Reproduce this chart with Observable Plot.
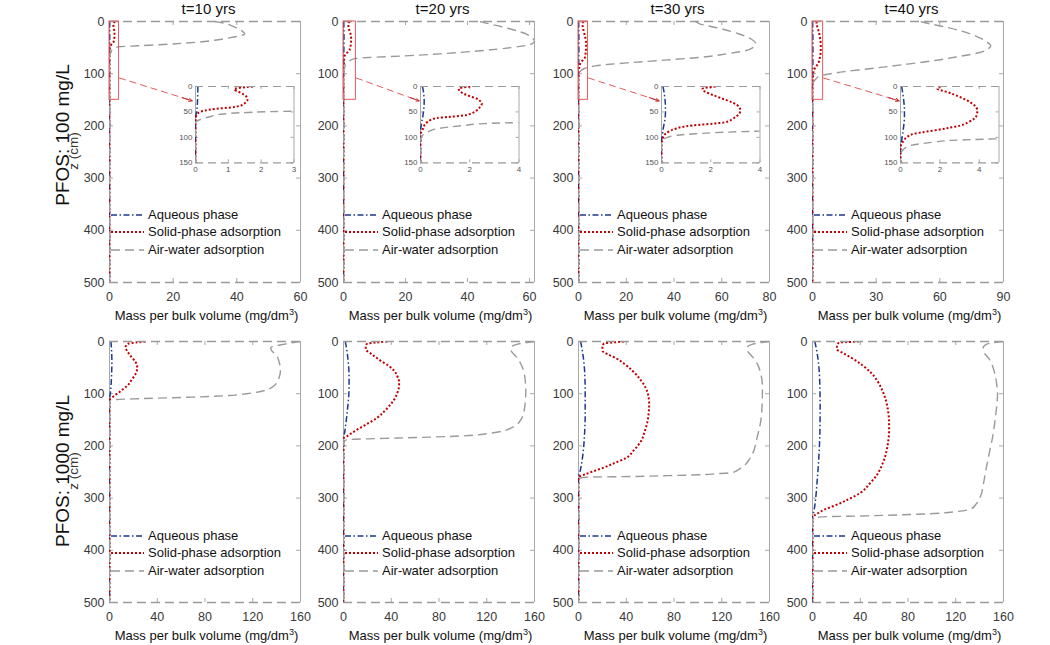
<!DOCTYPE html>
<html><head><meta charset="utf-8">
<script src="https://cdn.jsdelivr.net/npm/d3@7"></script>
<script src="https://cdn.jsdelivr.net/npm/@observablehq/plot@0.6"></script>
<style>
body{margin:0;background:#fff;}
#root{position:relative;width:1050px;height:645px;overflow:hidden;font-family:"Liberation Sans",Arial,sans-serif;color:#111;}
.abs{position:absolute;white-space:nowrap;}
.abs svg{overflow:visible;}
.title{font-size:15px;line-height:17px;transform:translateX(-50%);}
.xlab{font-size:13px;line-height:15px;transform:translate(-50%,-50%);}
.xlab sup{font-size:9px;line-height:0;vertical-align:5px;}
.rowlab{font-size:19px;line-height:19px;transform:translate(-50%,-50%) rotate(-90deg);}
.zlab{font-size:13.5px;line-height:14px;transform:translate(-50%,-50%) rotate(-90deg);color:#333;}
.leg{font-size:13px;line-height:14px;display:flex;align-items:center;}
</style></head><body><div id="root"></div>
<script>
// ---------- text ----------
const times = ["t=10 yrs", "t=20 yrs", "t=30 yrs", "t=40 yrs"];
const rowLabels = ["PFOS: 100 mg/L", "PFOS: 1000 mg/L"];
const seriesNames = ["Aqueous phase", "Solid-phase adsorption", "Air-water adsorption"];

// ---------- ticks / domains ----------
const zTicks = [0, 100, 200, 300, 400, 500];
const insetZTicks = [0, 50, 100, 150];
const topXMax = [60, 61.6, 80, 90];
const topXTicks = [[0, 20, 40, 60], [0, 20, 40, 60], [0, 20, 40, 60, 80], [0, 30, 60, 90]];
const bottomXMax = [160, 160, 160, 160];
const bottomXTicks = [0, 40, 80, 120, 160];
const insetXMax = [3, 4, 4, 5];
const insetZMax = 150;
const insetXTicks = [[0, 1, 2, 3], [0, 2, 4], [0, 2, 4], [0, 2, 4]];
// zoom arrow: from (insetXMax, arrowFromZ) to (arrowToX, arrowToZ) in main-panel units
const arrowFromZ = 108;
const arrowToZ = 152;
const arrowToX = [26, 24.4, 33.8, 40.8];

// ---------- data: [z (cm), mass per bulk volume (mg/dm3)] ----------
// PFOS 100 mg/L
const aq100_t10 = [[0,0.07],[10,0.07],[20,0.065],[30,0.06],[40,0.05],[50,0.03],[58,0.01],[65,0],[500,0]];
const sol100_t10 = [[0,1.75],[3,1.3],[6,1.18],[10,1.3],[15,1.45],[20,1.55],[27,1.58],[33,1.5],[38,1.35],[41,1.1],[44,0.6],[47,0.3],[50,0.14],[55,0.05],[62,0.01],[70,0],[500,0]];
const air100_t10 = [[0,33],[2,35],[10,39],[20,42],[24,42.5],[28,40.5],[32,37],[36,33],[40,27],[44,17],[46.5,9],[48.5,3],[51,1.6],[54,0.86],[60,0.4],[66,0.1],[72,0],[500,0]];

const aq100_t20 = [[0,0.08],[10,0.12],[20,0.14],[30,0.15],[40,0.14],[50,0.12],[60,0.09],[70,0.05],[80,0.02],[88,0],[500,0]];
const sol100_t20 = [[0,2.02],[2,1.7],[4.5,1.55],[9,1.6],[14,1.75],[19,2.0],[24,2.29],[30,2.45],[34,2.49],[40,2.42],[47,2.29],[52,2.1],[57,1.75],[60,1.1],[62,0.67],[66,0.4],[70,0.27],[76,0.16],[83,0.1],[88,0.05],[93,0],[500,0]];
const air100_t20 = [[0,44],[3,46],[10,51],[18,56],[25,59.3],[31,60.8],[38,61.6],[44,60.3],[50,54],[56,44.3],[62,31],[66,19],[69,8],[71,4],[73,2.6],[76.7,1.75],[83,0.67],[89,0.3],[98,0.05],[105,0],[500,0]];

const aq100_t30 = [[0,0.06],[10,0.1],[20,0.13],[30,0.15],[40,0.16],[50,0.16],[60,0.15],[70,0.12],[80,0.08],[90,0.05],[100,0.02],[108,0],[500,0]];
const sol100_t30 = [[0,2.2],[2,1.85],[4.5,1.66],[8,1.7],[11,1.8],[17,2.1],[24,2.48],[32,2.9],[40.6,3.16],[47,3.2],[53.7,3.16],[60,3.0],[65,2.85],[70,2.61],[73,2.1],[76.7,1.25],[80,0.8],[83,0.57],[88,0.32],[93,0.16],[100,0.07],[106,0.03],[115,0],[500,0]];
const air100_t30 = [[0,49],[4,50.5],[14,60],[24,67.3],[34,72.5],[43,74.3],[50,73],[56,70],[62,62],[69,50.5],[74,36],[78.5,22.6],[82,13],[85,7],[87.8,4],[90,2.5],[93,1.36],[96,0.6],[99.6,0.27],[106,0.05],[112,0],[500,0]];

const aq100_t40 = [[0,0.06],[10,0.1],[20,0.14],[30,0.17],[45,0.2],[60,0.2],[75,0.17],[90,0.12],[100,0.08],[110,0.04],[118,0.01],[125,0],[500,0]];
const sol100_t40 = [[0,2.03],[2,1.9],[4.5,1.87],[8,2.1],[11,2.37],[18,2.85],[27.5,3.39],[37,3.75],[47,3.9],[55,3.88],[63.5,3.73],[70,3.45],[76.7,3.05],[81,2.5],[86.5,1.69],[90,1.1],[93,0.68],[99,0.35],[106,0.17],[112,0.07],[119,0],[500,0]];
const air100_t40 = [[0,51],[2,52.6],[10,62],[18,69.9],[28,77],[40,82.5],[46.5,84],[52,83],[59,79.3],[67,69],[75,57.3],[83,42],[91,25.9],[96,15],[100,8.6],[102.8,5],[106,2.6],[109.5,1.69],[116,0.51],[125,0.12],[135,0],[500,0]];

// PFOS 1000 mg/L
const aq1000_t10 = [[0,1.2],[20,1.8],[40,2.0],[60,1.8],[80,1.4],[100,0.7],[112,0],[500,0]];
const sol1000_t10 = [[0,30.2],[2,22],[3.8,16.2],[7,14],[11.5,13.4],[18,14.8],[27.4,17.6],[37,21],[46.6,23.2],[55,23],[62.5,21.8],[72,19],[85,14.8],[92,11],[97.7,7.8],[103,4.5],[107,2.3],[112,0],[500,0]];
const air1000_t10 = [[0,160],[5,147],[12,135],[18,136],[25,139.5],[37,141.8],[56,143.2],[70,142],[78.5,140.4],[88,136],[94.4,129.2],[100,115],[104,95.7],[106.5,70],[108.5,39.9],[110,20],[111,6.4],[115,0],[500,0]];

const aq1000_t20 = [[0,1.5],[20,3],[40,4],[60,4.6],[80,4.7],[100,4.5],[120,3.8],[140,2.9],[160,1.8],[175,0.9],[186,0],[500,0]];
const sol1000_t20 = [[0,36.8],[2,27],[3.8,20.1],[8,18.6],[14.6,18.7],[25,24],[37,31.2],[46,37.5],[56,42.4],[67,45.2],[78.5,46.6],[88,46.4],[97.7,45.2],[110,42.8],[120,39.6],[133,34.5],[145.6,28.5],[155,22],[164.8,14.5],[173,8.5],[180.7,3.4],[186,0],[500,0]];
const air1000_t20 = [[0,160],[5,146],[12,140],[20,141],[30,145],[49.8,149.9],[70,152],[94.4,152.7],[115,152.3],[132.8,151.3],[150,148.5],[158.2,145.7],[165,141],[171,134.5],[176,122],[180.7,101],[183,75],[185,45.2],[186.5,20],[187.7,6.1],[190,0],[500,0]];

const aq1000_t30 = [[0,1.8],[30,4],[60,5.2],[100,5.6],[140,5.6],[180,5],[210,4],[235,2.5],[250,1.2],[260,0],[500,0]];
const sol1000_t30 = [[0,38.2],[2,28],[3.8,21.4],[10,20],[17.8,20.1],[25,25],[31.8,31.2],[43,38.5],[56,45.2],[72,51.5],[89.3,56.4],[105,58.6],[121,59.2],[137,58.8],[153,57.8],[172,55.5],[191.6,52.2],[208,46.5],[223.4,39.6],[233,30],[242.5,20.1],[249,12],[254,6.1],[260,0],[500,0]];
const air1000_t30 = [[0,160],[5,146],[12,141],[17.8,141.5],[30,146],[43.3,149.9],[60,152.5],[88,154.1],[120,153.8],[152,152.7],[185,149.5],[215.7,145.7],[228,142.5],[235,140.1],[243,135.5],[251,129],[253.5,115],[255.4,101],[257,75],[258.6,45.2],[260,6.1],[263,0],[500,0]];

const aq1000_t40 = [[0,2],[30,4.4],[56,5.6],[90,6.2],[120,6.4],[160,6.3],[200,5.8],[240,4.8],[270,3.8],[302,2.6],[325,1.2],[337,0],[500,0]];
const sol1000_t40 = [[0,39],[1,30],[1.9,22.3],[8,20.5],[14.6,20.4],[22,25.5],[30.6,32.1],[45,41.5],[59.3,48.8],[76,54.5],[94.4,58.6],[113,61.5],[132.8,63.3],[152,64.1],[171,64.2],[193,63.3],[215.7,61.4],[235,58.5],[254,54.4],[272,48],[289.3,40.5],[303,29.5],[314.8,18.1],[322,10],[329.5,4.2],[337,0],[500,0]];
const air1000_t40 = [[0,160],[5,146],[12,143],[17.8,143.2],[35,148.5],[56,152.1],[80,154.2],[100.8,155],[140,153.5],[183.9,150.8],[215,148],[247.7,145.1],[275,143],[295.6,140.9],[310,137.5],[321,132.6],[326,120],[329.5,101.9],[332,75],[334,46.1],[336,7],[340,0],[500,0]];

const topAq = [aq100_t10, aq100_t20, aq100_t30, aq100_t40];
const topSol = [sol100_t10, sol100_t20, sol100_t30, sol100_t40];
const topAir = [air100_t10, air100_t20, air100_t30, air100_t40];
const botAq = [aq1000_t10, aq1000_t20, aq1000_t30, aq1000_t40];
const botSol = [sol1000_t10, sol1000_t20, sol1000_t30, sol1000_t40];
const botAir = [air1000_t10, air1000_t20, air1000_t30, air1000_t40];

// ---------- styles ----------
const BOX = "#a8a8a8";
const TXT = "#3a3a3a";
const S_AQ = {stroke: "#1b3a8e", strokeWidth: 1.5, strokeDasharray: "6 2.5 1.5 2.5", strokeLinecap: "butt"};
const S_SOL = {stroke: "#c00000", strokeWidth: 2, strokeDasharray: "2 2", strokeLinecap: "butt"};
const S_AIR = {stroke: "#9a9a9a", strokeWidth: 1.4, strokeDasharray: "9 5", strokeLinecap: "butt"};
const RECT = "#e35b5b";
const FONT = "'Liberation Sans', Arial, sans-serif";
const fmt = d => String(d);

// ---------- layout ----------
const panelLeft = [109, 343, 578, 812];
const panelTop = [20.7, 340.7];
const PW = 191, PH = 261;
const insetLeft = [195, 420, 661, 900];
const insetTop = 86, IW = 98.5, IH = 76.3;

const root = document.getElementById("root");
function place(el, left, top) {
  const d = document.createElement("div");
  d.className = "abs";
  d.style.left = left + "px"; d.style.top = top + "px";
  d.appendChild(el);
  root.appendChild(d);
  return d;
}
function htmlDiv(cls, html, left, top) {
  const d = document.createElement("div");
  d.className = "abs " + cls;
  d.innerHTML = html;
  d.style.left = left + "px"; d.style.top = top + "px";
  root.appendChild(d);
  return d;
}
const toRows = arr => arr.map(([z, v]) => ({z, v}));
const lineOf = (arr, st) => Plot.line(toRows(arr), {x: "v", y: "z", curve: "monotone-y", clip: true, fill: "none", ...st});

function frameMarks(xmax, xticks, yticks, w, h, tk) {
  return [
    Plot.ruleX([0, xmax], {stroke: BOX, strokeWidth: 1}),
    Plot.tickY(yticks, {y: d => d, insetRight: w - tk, stroke: BOX}),
    Plot.tickY(yticks, {y: d => d, insetLeft: w - tk, stroke: BOX}),
    Plot.tickX(xticks, {x: d => d, insetTop: h - tk, stroke: BOX}),
    Plot.tickX(xticks, {x: d => d, insetBottom: h - tk, stroke: BOX})
  ];
}

function mainPlot(xmax, xticks, aq, sol, air, insetIdx) {
  const mL = 40, mR = 10, mT = 10, mB = 30;
  const marks = [
    ...frameMarks(xmax, xticks, zTicks, PW, PH, 4),
    Plot.axisY({ticks: zTicks, anchor: "left", tickSize: 0, tickPadding: 5, tickFormat: fmt, label: null}),
    Plot.axisX({ticks: xticks, anchor: "bottom", tickSize: 0, tickPadding: 10, tickFormat: fmt, label: null}),
    lineOf(aq, S_AQ),
    lineOf(sol, S_SOL),
    lineOf(air, S_AIR),
    Plot.ruleY([0, 500], {...S_AIR, strokeWidth: 1.3})
  ];
  if (insetIdx != null) {
    const xm = insetXMax[insetIdx];
    const a = {x1: xm, y1: arrowFromZ, x2: arrowToX[insetIdx], y2: arrowToZ};
    const t = 0.86;
    const head = {x1: a.x1 + t * (a.x2 - a.x1), y1: a.y1 + t * (a.y2 - a.y1), x2: a.x2, y2: a.y2};
    marks.push(
      Plot.rect([{x1: 0, x2: xm, y1: 0, y2: insetZMax}], {x1: "x1", x2: "x2", y1: "y1", y2: "y2", fill: "none", stroke: RECT, strokeWidth: 1}),
      Plot.arrow([a], {x1: "x1", y1: "y1", x2: "x2", y2: "y2", stroke: RECT, strokeWidth: 1, strokeDasharray: "7 4", strokeLinecap: "butt", headLength: 0}),
      Plot.arrow([head], {x1: "x1", y1: "y1", x2: "x2", y2: "y2", stroke: "#c62828", strokeWidth: 1, headLength: 7, headAngle: 50})
    );
  }
  const svg = Plot.plot({
    width: PW + mL + mR, height: PH + mT + mB,
    marginLeft: mL, marginRight: mR, marginTop: mT, marginBottom: mB,
    x: {domain: [0, xmax], label: null},
    y: {domain: [0, 500], reverse: true, label: null},
    style: {fontSize: "12.5px", fontFamily: FONT, color: TXT, background: "transparent", overflow: "visible"},
    marks
  });
  return {svg, mL, mT};
}

function insetPlot(i) {
  const mL = 22, mR = 6, mT = 6, mB = 14;
  const xm = insetXMax[i];
  const svg = Plot.plot({
    width: IW + mL + mR, height: IH + mT + mB,
    marginLeft: mL, marginRight: mR, marginTop: mT, marginBottom: mB,
    x: {domain: [0, xm], label: null},
    y: {domain: [0, insetZMax], reverse: true, label: null},
    style: {fontSize: "8px", fontFamily: FONT, color: "#555", background: "transparent", overflow: "visible"},
    marks: [
      ...frameMarks(xm, insetXTicks[i], insetZTicks, IW, IH, 3),
      Plot.axisY({ticks: insetZTicks, anchor: "left", tickSize: 0, tickPadding: 3, tickFormat: fmt, label: null}),
      Plot.axisX({ticks: insetXTicks[i], anchor: "bottom", tickSize: 0, tickPadding: 4, tickFormat: fmt, label: null}),
      lineOf(topAq[i], S_AQ),
      lineOf(topSol[i], S_SOL),
      lineOf(topAir[i], {...S_AIR, strokeDasharray: "8 5"}),
      Plot.ruleY([0, insetZMax], {...S_AIR, strokeDasharray: "8 5", strokeWidth: 1.2})
    ]
  });
  return {svg, mL, mT};
}

function legend(left, top) {
  const styles = [S_AQ, S_SOL, S_AIR];
  seriesNames.forEach((name, k) => {
    const st = styles[k];
    const html = `<svg width="34" height="6" style="margin-right:3px"><line x1="0" y1="3" x2="33" y2="3" stroke="${st.stroke}" stroke-width="${st.strokeWidth}" stroke-dasharray="${st.strokeDasharray}"/></svg><span>${name}</span>`;
    htmlDiv("leg", html, left + 2, top + k * 17.3 - 7);
  });
}

// ---------- build ----------
for (let c = 0; c < 4; c++) {
  let m = mainPlot(topXMax[c], topXTicks[c], topAq[c], topSol[c], topAir[c], c);
  place(m.svg, panelLeft[c] - m.mL, panelTop[0] - m.mT);
  const ins = insetPlot(c);
  place(ins.svg, insetLeft[c] - ins.mL, insetTop - ins.mT);
  legend(panelLeft[c], 215);
  m = mainPlot(bottomXMax[c], bottomXTicks, botAq[c], botSol[c], botAir[c], null);
  place(m.svg, panelLeft[c] - m.mL, panelTop[1] - m.mT);
  legend(panelLeft[c], 536);
  htmlDiv("title", times[c], panelLeft[c] + PW / 2 + 4, 0);
  htmlDiv("xlab", "Mass per bulk volume (mg/dm<sup>3</sup>)", panelLeft[c] + PW / 2 + 2, panelTop[0] + PH + 33);
  htmlDiv("xlab", "Mass per bulk volume (mg/dm<sup>3</sup>)", panelLeft[c] + PW / 2 + 2, panelTop[1] + PH + 33);
}
htmlDiv("rowlab", rowLabels[0], 62, 135);
htmlDiv("rowlab", rowLabels[1], 62, 471);
htmlDiv("zlab", "z (cm)", 74, 151);
htmlDiv("zlab", "z (cm)", 74, 471);
</script></body></html>
